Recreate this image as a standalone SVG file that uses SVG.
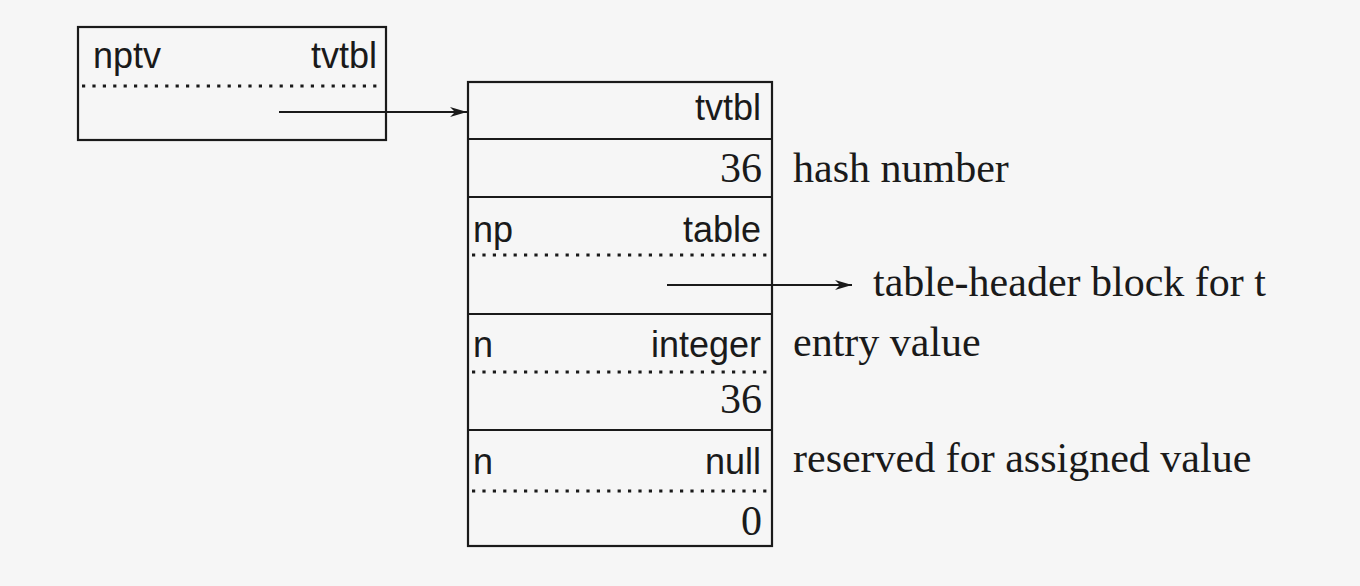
<svg xmlns="http://www.w3.org/2000/svg" width="1360" height="586" viewBox="0 0 1360 586">
<style>
.box{fill:none;stroke:#1a1a1a;stroke-width:2.2}
.sep{stroke:#1a1a1a;stroke-width:2.2}
.dot{stroke:#1a1a1a;stroke-width:3.2;stroke-dasharray:3.2 7.2}
.sans{font-family:"Liberation Sans",Arial,sans-serif;font-size:36px;fill:#1a1a1a}
.serif{font-family:"Liberation Serif","Times New Roman",serif;font-size:42px;fill:#1a1a1a}
.end{text-anchor:end}
.conn{stroke:#1a1a1a;stroke-width:1.8;fill:none}
</style>
<defs>
<marker id="arr" markerWidth="18" markerHeight="12" refX="17" refY="6" orient="auto" markerUnits="userSpaceOnUse">
<path d="M0,1 L17,6 L0,11 L5,6 Z" fill="#1a1a1a"/>
</marker>
</defs>
<rect width="1360" height="586" fill="#f6f6f6"/>
<g id="nptv-block">
<rect class="box" x="78" y="27" width="308" height="113"/>
<line class="dot" x1="82" y1="86" x2="381" y2="86"/>
<text class="sans" x="93" y="68">nptv</text>
<text class="sans end" x="377" y="68">tvtbl</text>
</g>
<g id="tvtbl-block">
<rect class="box" x="468" y="82" width="304" height="464"/>
<line class="sep" x1="468" y1="139" x2="772" y2="139"/>
<line class="sep" x1="468" y1="197" x2="772" y2="197"/>
<line class="dot" x1="472" y1="255" x2="768" y2="255"/>
<line class="sep" x1="468" y1="314" x2="772" y2="314"/>
<line class="dot" x1="472" y1="372" x2="768" y2="372"/>
<line class="sep" x1="468" y1="430" x2="772" y2="430"/>
<line class="dot" x1="472" y1="491" x2="768" y2="491"/>
<text class="sans end" x="761" y="120">tvtbl</text>
<text class="serif end" x="762" y="182">36</text>
<text class="sans" x="473" y="242">np</text>
<text class="sans end" x="761" y="242">table</text>
<text class="sans" x="473" y="357">n</text>
<text class="sans end" x="761" y="357">integer</text>
<text class="serif end" x="762" y="413">36</text>
<text class="sans" x="473" y="474">n</text>
<text class="sans end" x="761" y="474">null</text>
<text class="serif end" x="762" y="535">0</text>
</g>
<g id="labels">
<text class="serif" x="793" y="182">hash number</text>
<text class="serif" x="873" y="296">table-header block for t</text>
<text class="serif" x="793" y="356">entry value</text>
<text class="serif" x="793" y="472">reserved for assigned value</text>
</g>
<g id="connectors">
<line class="conn" x1="279" y1="112" x2="467" y2="112" marker-end="url(#arr)"/>
<line class="conn" x1="667" y1="285" x2="852" y2="285" marker-end="url(#arr)"/>
</g>
</svg>
